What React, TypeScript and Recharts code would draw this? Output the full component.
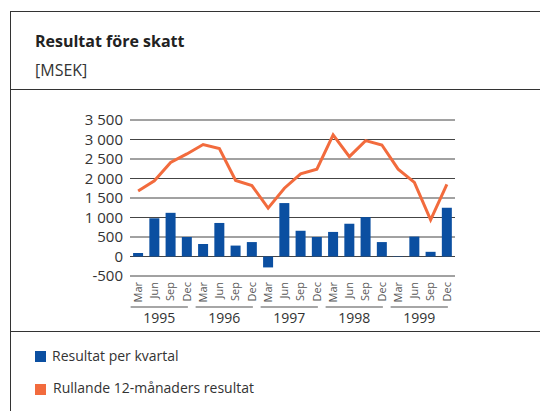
import { ComposedChart, Bar, Line, XAxis, YAxis, CartesianGrid } from "recharts";

const QUARTERS = ["Mar", "Jun", "Sep", "Dec"];
const YEARS = ["1995", "1996", "1997", "1998", "1999"];
// Resultat per kvartal, MSEK
const KVARTAL = [90, 980, 1120, 500, 320, 860, 280, 370, -280, 1370, 660, 500, 630, 840, 1010, 370, 10, 510, 120, 1250];
// Rullande 12-månaders resultat, MSEK
const RULLANDE = [1680, 1940, 2410, 2630, 2870, 2770, 1950, 1820, 1240, 1750, 2120, 2240, 3120, 2560, 2970, 2860, 2240, 1900, 940, 1850];
const Y_TICKS = [-500, 0, 500, 1000, 1500, 2000, 2500, 3000, 3500];

const BLUE = "#0b4fa1";
const ORANGE = "#f26b3d";
const FONT = "'Open Sans', sans-serif";

const data = KVARTAL.map((v, i) => ({
  month: QUARTERS[i % 4],
  kvartal: v,
  rullande: RULLANDE[i],
}));

const PLOT_W = 325;
const STEP = PLOT_W / data.length;

const fmt = (v: number) => String(v).replace(/\B(?=(\d{3})+(?!\d))/g, " ");

function MonthTick(props: any) {
  const { x, y, payload } = props;
  const i = payload.index;
  return (
    <g>
      <text transform={`translate(${x},${y}) rotate(-90)`} textAnchor="end" dy="0.35em"
        fontSize={11} fill="#555" fontFamily={FONT}>{payload.value}</text>
      {i % 4 === 0 && (
        <>
          <line x1={x - 7.5} x2={x + 3 * STEP + 1} y1={y + 25} y2={y + 25} stroke="#888" strokeWidth={1.5} />
          <text x={x + 1.5 * STEP - 3.25} y={y + 41} textAnchor="middle" fontSize={14} fill="#333"
            fontFamily={FONT}>{YEARS[i / 4]}</text>
        </>
      )}
    </g>
  );
}

const hLine = (top: number): React.CSSProperties => ({
  position: "absolute", left: 10, top, width: 530, height: 1, background: "#333",
});

export default function App() {
  return (
    <div style={{ position: "absolute", left: 0, top: 0, width: 540, height: 411, background: "#fff", fontFamily: FONT, color: "#222" }}>
      <div style={hLine(11)} />
      <div style={hLine(89)} />
      <div style={hLine(331)} />
      <div style={{ position: "absolute", left: 10, top: 11, width: 1, height: 400, background: "#333" }} />

      <div style={{ position: "absolute", left: 35, top: 32.8, fontSize: 16, lineHeight: "16px", fontWeight: 700, whiteSpace: "nowrap" }}>
        Resultat före skatt
      </div>
      <div style={{ position: "absolute", left: 35, top: 61.8, fontSize: 16, lineHeight: "16px", color: "#333" }}>
        [MSEK]
      </div>

      <div style={{ position: "absolute", left: 0, top: 0 }}>
        <ComposedChart width={540} height={411} data={data}
          margin={{ top: 120, right: 85, left: 70, bottom: 75 }} barCategoryGap="19%">
          <CartesianGrid vertical={false} stroke="#444" strokeWidth={1} />
          <XAxis dataKey="month" interval={0} height={60} axisLine={false} tickLine={false}
            tickSize={0} tickMargin={6} tick={<MonthTick />} />
          <YAxis domain={[-500, 3500]} ticks={Y_TICKS} width={60} axisLine={false} tickLine={false}
            tickSize={0} tickMargin={7} tickFormatter={fmt} interval={0}
            tick={{ fill: "#333", fontSize: 15, fontFamily: FONT }} />
          <Bar dataKey="kvartal" fill={BLUE} isAnimationActive={false} />
          <Line dataKey="rullande" type="linear" stroke={ORANGE} strokeWidth={3} dot={false}
            isAnimationActive={false} />
        </ComposedChart>
      </div>

      <div style={{ position: "absolute", left: 35, top: 351, width: 11, height: 11, background: BLUE }} />
      <div style={{ position: "absolute", left: 52, top: 348.6, fontSize: 14, lineHeight: "14px", color: "#333", whiteSpace: "nowrap" }}>
        Resultat per kvartal
      </div>
      <div style={{ position: "absolute", left: 35, top: 384, width: 11, height: 11, background: ORANGE }} />
      <div style={{ position: "absolute", left: 53, top: 380.6, fontSize: 14, lineHeight: "14px", color: "#333", whiteSpace: "nowrap" }}>
        Rullande 12-månaders resultat
      </div>
    </div>
  );
}
